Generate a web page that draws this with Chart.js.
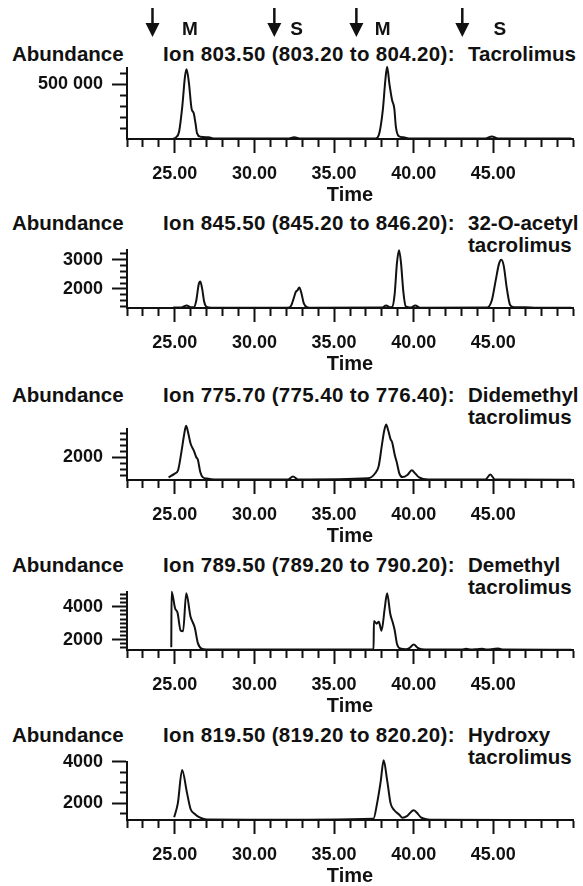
<!DOCTYPE html>
<html>
<head>
<meta charset="utf-8">
<script src="https://cdn.jsdelivr.net/npm/chart.js@4.4.1/dist/chart.umd.min.js"></script>
<style>
    body { margin: 0; background: #fff; width: 583px; height: 886px; position: relative; overflow: hidden;
           font-family: "Liberation Sans", Arial, sans-serif; font-weight: bold; color: #111; }
    .txt { position: absolute; font-size: 20.5px; line-height: 22px; white-space: nowrap; }
    canvas { position: absolute; left: 0; }
</style>
</head>
<body>
<script>
'use strict'

// x axis (retention time, min)
var timeMin = 22;
var timeMax = 50;
var timeLabels = [25, 30, 35, 40, 45];

// arrows and peak letters above the first trace
var arrowTimes = [23.6, 31.25, 36.4, 43.05];
var peakLetters = ['M', 'S', 'M', 'S'];
var peakLetterTimes = [25.95, 32.65, 38.05, 45.4];

// panel headers
var ionTexts = [
    'Ion 803.50 (803.20 to 804.20):',
    'Ion 845.50 (845.20 to 846.20):',
    'Ion 775.70 (775.40 to 776.40):',
    'Ion 789.50 (789.20 to 790.20):',
    'Ion 819.50 (819.20 to 820.20):'
];
var compoundNames = [
    ['Tacrolimus'],
    ['32-O-acetyl', 'tacrolimus'],
    ['Didemethyl', 'tacrolimus'],
    ['Demethyl', 'tacrolimus'],
    ['Hydroxy', 'tacrolimus']
];

// y axes
var abundMin = [0, 1343, 1233, 1367, 1200];
var abundMax = [650000, 3343, 2959, 4911, 4000];
var abundStep = [100000, 200, 200, 250, 500];
var abundTickValues = [[500000], [2000, 3000], [2000], [2000, 4000], [2000, 4000]];
var abundTickTexts = [['500 000'], ['2000', '3000'], ['2000'], ['2000', '4000'], ['2000', '4000']];

// traces
var tacroTime = [24.9, 25.07, 25.27, 25.47, 25.64, 25.74, 25.89, 26.05, 26.19, 26.3, 26.4, 26.61, 27.12, 27.5,
    32.1, 32.5, 32.9, 37.6, 37.81, 38.06, 38.22, 38.33, 38.47, 38.64, 38.78, 38.88, 39.05, 39.35, 39.8,
    44.5, 44.9, 45.3, 49.9];
var tacroAbund = [3000, 15000, 67000, 296000, 570000, 638000, 510000, 281000, 235000, 144000, 52000, 21000, 15000, 5000,
    5000, 16000, 5000, 5000, 37000, 265000, 540000, 662000, 510000, 357000, 281000, 113000, 27000, 15000, 5000,
    5000, 22000, 5000, 4000];

var acetylTime = [24.9, 25.4, 25.75, 26.0, 26.2, 26.35, 26.5, 26.6, 26.72, 26.85, 27.0, 27.3,
    32.1, 32.3, 32.45, 32.6, 32.7, 32.82, 32.95, 33.1, 33.3, 33.6,
    38.0, 38.27, 38.5, 38.65, 38.8, 38.95, 39.08, 39.2, 39.35, 39.5, 39.8, 40.1, 40.4,
    44.6, 44.9, 45.15, 45.35, 45.5, 45.65, 45.85, 46.05, 46.3, 47.0, 47.7, 49.9];
var acetylAbund = [1360, 1360, 1430, 1365, 1370, 1600, 2150, 2250, 2000, 1550, 1380, 1350,
    1350, 1420, 1650, 1900, 1950, 2050, 1850, 1500, 1370, 1350,
    1360, 1430, 1370, 1380, 1800, 2900, 3330, 2900, 1900, 1400, 1360, 1430, 1355,
    1360, 1600, 2300, 2850, 3000, 2800, 2000, 1450, 1370, 1365, 1350, 1348];

var didemTime = [24.61, 25.0, 25.2, 25.42, 25.58, 25.71, 25.85, 25.99, 26.22, 26.35, 26.45, 26.6, 26.75, 27.02, 27.5,
    32.1, 32.42, 32.75, 37.13, 37.58, 37.8, 38.0, 38.15, 38.27, 38.4, 38.55, 38.65, 38.8, 38.95, 39.1, 39.3,
    39.6, 39.88, 40.1, 40.34, 40.9, 44.5, 44.81, 45.1, 49.9];
var didemAbund = [1323, 1450, 1554, 2192, 2740, 3060, 2800, 2466, 2192, 2000, 1918, 1500, 1330, 1280, 1250,
    1250, 1350, 1250, 1290, 1460, 1700, 2400, 2900, 3100, 2900, 2600, 2500, 2100, 1800, 1450, 1330,
    1400, 1560, 1450, 1320, 1250, 1250, 1420, 1250, 1245];

var demTime = [24.78, 24.8, 25.02, 25.17, 25.37, 25.52, 25.72, 25.99, 26.13, 26.25, 26.45, 26.68, 27.0, 30.0,
    37.48, 37.5, 37.67, 37.81, 37.98, 38.18, 38.33, 38.53, 38.68, 38.8, 38.96, 39.2, 39.5, 39.75, 40.0, 40.25,
    40.5, 41.5, 43.0, 43.3, 43.6, 44.0, 44.3, 44.6, 45.0, 45.3, 45.6, 49.9];
var demAbund = [1534, 4909, 3897, 3644, 2546, 2515, 4823, 3391, 3052, 2750, 1787, 1453, 1400, 1390,
    1400, 3138, 2971, 3087, 2546, 3897, 4823, 3558, 3052, 2600, 1706, 1450, 1420, 1500, 1700, 1500,
    1420, 1390, 1390, 1440, 1390, 1420, 1440, 1390, 1430, 1460, 1390, 1380];

var hydroxyTime = [24.96, 25.19, 25.46, 25.76, 25.99, 26.29, 26.56, 27.02, 30.0,
    37.47, 37.7, 37.93, 38.11, 38.34, 38.55, 38.78, 39.08, 39.3, 39.6, 39.99, 40.2, 40.45, 41.26, 49.9];
var hydroxyAbund = [1330, 2000, 3600, 2530, 1730, 1470, 1330, 1220, 1210,
    1260, 2000, 3070, 4070, 3070, 2000, 1670, 1470, 1310, 1400, 1670, 1550, 1330, 1210, 1205];

var traceTimes = [tacroTime, acetylTime, didemTime, demTime, hydroxyTime];
var traceAbunds = [tacroAbund, acetylAbund, didemAbund, demAbund, hydroxyAbund];

// page layout: x axis line and y axis top of each panel
var axisBottom = [139, 308, 480, 650, 820];
var axisTop = [68, 238, 417, 580, 750];

var ink = '#111';
var fontFamily = '"Liberation Sans", Arial, sans-serif';

var markerPlugin = {
    id: 'markers',
    afterDraw: function (chart) {
        var ctx = chart.ctx;
        var xs = chart.scales.x;
        ctx.save();
        ctx.strokeStyle = ink;
        ctx.fillStyle = ink;
        ctx.lineWidth = 2.5;
        arrowTimes.forEach(function (t) {
            var px = xs.getPixelForValue(t);
            ctx.beginPath();
            ctx.moveTo(px, 8);
            ctx.lineTo(px, 25);
            ctx.stroke();
            ctx.beginPath();
            ctx.moveTo(px - 7, 23);
            ctx.lineTo(px + 7, 23);
            ctx.lineTo(px, 37);
            ctx.closePath();
            ctx.fill();
        });
        ctx.font = 'bold 19px ' + fontFamily;
        ctx.textAlign = 'center';
        ctx.textBaseline = 'alphabetic';
        peakLetterTimes.forEach(function (t, k) {
            ctx.fillText(peakLetters[k], xs.getPixelForValue(t), 35);
        });
        ctx.restore();
    }
};

function addText(str, left, centerY) {
    var d = document.createElement('div');
    d.className = 'txt';
    d.textContent = str;
    d.style.left = left + 'px';
    d.style.top = (centerY - 11) + 'px';
    document.body.appendChild(d);
    return d;
}

function makePanel(i) {
    var headY = axisBottom[i] - 85;
    addText('Abundance', 12, headY);
    var ion = addText(ionTexts[i], 163, headY);
    ion.style.letterSpacing = '0.35px';
    compoundNames[i].forEach(function (s, k) {
        addText(s, 468, headY + k * 22);
    });

    var canvasTop = i === 0 ? 0 : axisTop[i] - 8;
    var canvas = document.createElement('canvas');
    canvas.width = 583;
    canvas.height = axisBottom[i] - canvasTop + 68;
    canvas.style.top = canvasTop + 'px';
    document.body.appendChild(canvas);

    var points = traceTimes[i].map(function (t, k) {
        return { x: t, y: traceAbunds[i][k] };
    });
    var majorY = abundTickValues[i];

    new Chart(canvas.getContext('2d'), {
        type: 'line',
        data: {
            datasets: [{
                data: points,
                borderColor: ink,
                borderWidth: 2,
                pointRadius: 0,
                fill: false,
                clip: false,
                cubicInterpolationMode: 'monotone'
            }]
        },
        options: {
            responsive: false,
            animation: false,
            devicePixelRatio: 1,
            layout: { padding: { top: axisTop[i] - canvasTop, right: 2, bottom: 0, left: 0 } },
            plugins: { legend: { display: false }, tooltip: { enabled: false } },
            scales: {
                x: {
                    type: 'linear',
                    min: timeMin,
                    max: timeMax,
                    afterFit: function (s) { s.height = 68; },
                    afterBuildTicks: function (s) {
                        var list = [];
                        for (var v = timeMin; v <= timeMax; v++) list.push({ value: v });
                        s.ticks = list;
                    },
                    border: { color: ink, width: 2 },
                    grid: {
                        drawOnChartArea: false,
                        tickLength: 14,
                        tickWidth: 2,
                        tickColor: ink,
                        tickBorderDash: function (c) {
                            return timeLabels.indexOf(c.tick.value) >= 0 ? [] : [7, 30];
                        }
                    },
                    ticks: {
                        autoSkip: false,
                        maxRotation: 0,
                        padding: 10,
                        color: ink,
                        font: { family: fontFamily, size: 18, weight: 'bold' },
                        callback: function (v) {
                            return timeLabels.indexOf(v) >= 0 ? v.toFixed(2) : '';
                        }
                    },
                    title: {
                        display: true,
                        text: 'Time',
                        color: ink,
                        padding: 0,
                        font: { family: fontFamily, size: 20, weight: 'bold' }
                    }
                },
                y: {
                    type: 'linear',
                    min: abundMin[i],
                    max: abundMax[i],
                    afterFit: function (s) { s.width = 127; },
                    afterBuildTicks: function (s) {
                        var step = abundStep[i];
                        var list = [];
                        for (var v = Math.ceil(abundMin[i] / step) * step; v <= abundMax[i]; v += step) {
                            if (v > abundMin[i]) list.push({ value: v });
                        }
                        s.ticks = list;
                    },
                    border: { color: ink, width: 2 },
                    grid: {
                        drawOnChartArea: false,
                        tickLength: 15,
                        tickWidth: 2,
                        tickColor: ink,
                        tickBorderDash: function (c) {
                            return majorY.indexOf(c.tick.value) >= 0 ? [] : [7, 8];
                        },
                        tickBorderDashOffset: function (c) {
                            return majorY.indexOf(c.tick.value) >= 0 ? 0 : 7;
                        }
                    },
                    ticks: {
                        autoSkip: false,
                        padding: 9,
                        color: ink,
                        font: { family: fontFamily, size: 18, weight: 'bold' },
                        callback: function (v) {
                            var k = majorY.indexOf(v);
                            return k >= 0 ? abundTickTexts[i][k] : '';
                        }
                    }
                }
            }
        },
        plugins: i === 0 ? [markerPlugin] : []
    });
}

for (var p = 0; p < 5; p++) makePanel(p);
</script>
</body>
</html>
